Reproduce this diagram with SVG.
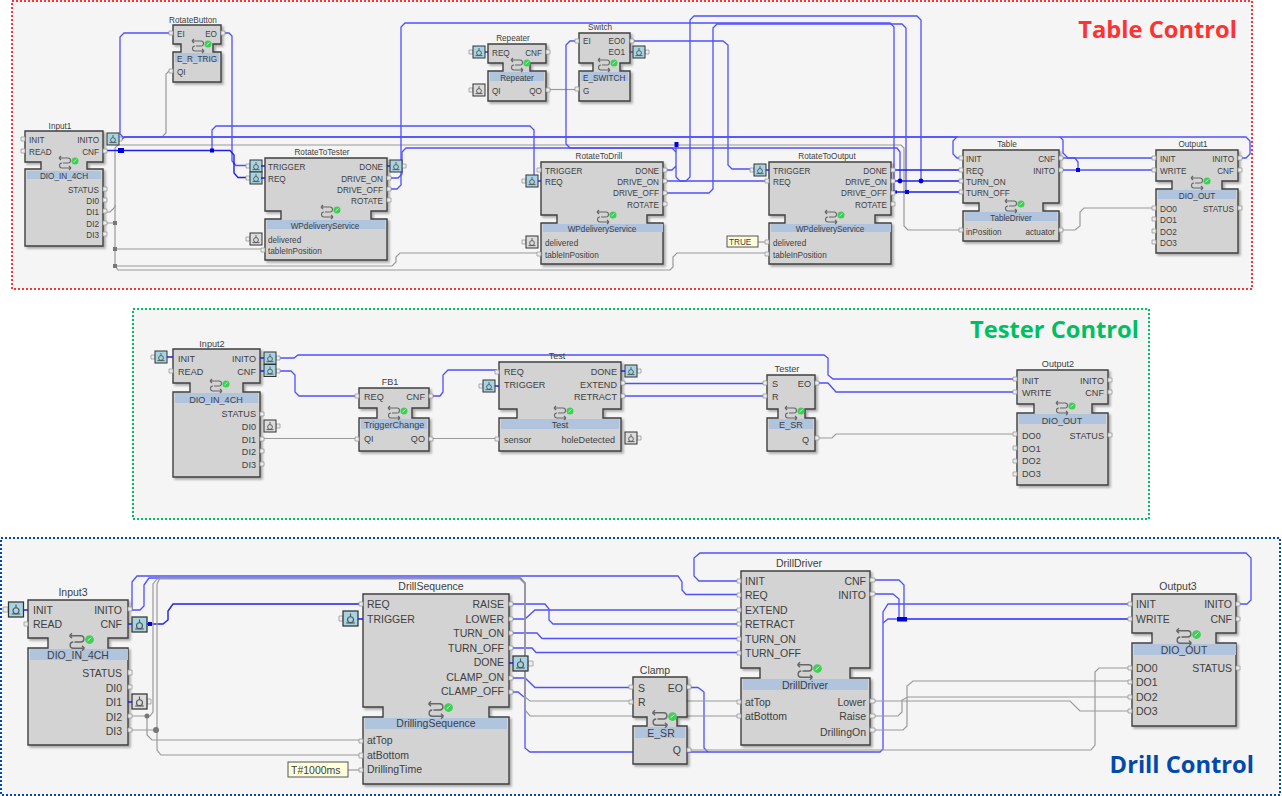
<svg xmlns="http://www.w3.org/2000/svg" xmlns:xlink="http://www.w3.org/1999/xlink" width="1282" height="796" viewBox="0 0 1282 796">
<style>
text{font-family:"Liberation Sans",Arial,sans-serif;fill:#404040}
.tb text{font-size:8.2px}.ts text{font-size:9.1px}.dr text{font-size:10.5px}
.r{text-anchor:end}.c{text-anchor:middle}
.title{font-family:"Open Sans","Noto Sans",sans-serif;font-weight:700;font-size:23.7px}
.frame{fill:#f5f5f5;stroke-width:2;stroke-dasharray:2 2}
.blk{fill:#d3d3d3;stroke:#404040;stroke-width:1.4;filter:drop-shadow(2px 2px 1px rgba(0,0,0,.3))}
.band{fill:#b0c4de}
.pin{fill:#eee;stroke:#999;stroke-width:.8}
.w{fill:none;stroke:#4f4fff;stroke-width:1.3}
.d{fill:none;stroke:#1f1fe6;stroke-width:1.4}
.g{fill:none;stroke:#9a9a9a;stroke-width:1.2}
.bd{fill:#0000e0}.gd{fill:#777}
.val{fill:#ffffdc;stroke:#555;stroke-width:1}
</style>
<defs>
<g id="ev"><rect x="0" y="0" width="12" height="12" fill="#a6d4e2" stroke="#333" stroke-width="1"/><circle cx="6" cy="7" r="2.4" fill="none" stroke="#555" stroke-width=".9"/><path d="M6,2V4.6M2.5,9.6H9.5" stroke="#555" stroke-width=".9" fill="none"/></g>
<g id="dv"><rect x="0" y="0" width="12" height="12" fill="#dcdcdc" stroke="#333" stroke-width="1"/><circle cx="6" cy="7" r="2.4" fill="none" stroke="#555" stroke-width=".9"/><path d="M6,2V4.6M2.5,9.6H9.5" stroke="#555" stroke-width=".9" fill="none"/></g>
<g id="st"><path d="M-6,-5H3A2.500,2.500 0 0 1 3,0H-2M6,5H-3A2.500,2.500 0 0 1 -3,0M-6,-5L-4,-7M-6,-5L-4,-3M6,5L4,3M6,5L4,7" fill="none" stroke="#666" stroke-width="1.1"/><circle cx="10" cy="-2" r="3.500" fill="#3ecf55"/><path d="M8.500,-1 L11.500,-3.500" stroke="#dff5e0" stroke-width=".8"/></g>
</defs>

<g id="frames">
<rect class="frame" x="12" y="1" width="1240" height="288" stroke="#ff3131"/>
<rect class="frame" x="133" y="309" width="1016" height="210" stroke="#00bf63"/>
<rect class="frame" x="1" y="538" width="1279" height="257" stroke="#004aad"/>
<text class="title r" x="1237" y="38" style="fill:#ff3131">Table Control</text>
<text class="title r" x="1139" y="338" style="fill:#00bf63">Tester Control</text>
<text class="title r" x="1254" y="773" style="fill:#004aad">Drill Control</text>
</g>

<g id="connectors">
<path class="g" d="M171,71H169L166,74V133L162,137H120"/>
<path class="g" d="M107,212H110L115,207V148L118,145H901L904,148V226L908,230H961"/>
<path class="g" d="M107,223H115M115,205V266M115,249H261"/>
<path class="g" d="M115,266H392L396,262V257L400,253H539"/>
<path class="g" d="M115,266L118,270H670L673,267V257L677,253H767"/>
<path class="g" d="M548,89.500H577"/>
<path class="g" d="M758,242H767"/>
<path class="g" d="M1061,230H1075L1080,226V212L1084,208H1154"/>
<path class="w" d="M1240,158H1246L1250,154V141L1246,137H123L120,134V37L124,33H170"/>
<path class="w" d="M118,139H122L125,137H957L953,141V154L957,158H961"/>
<path class="w" d="M1060,137L1063,140V153L1068,158H1154"/>
<path class="w" d="M1061,158H1075L1078,162V170"/>
<path class="w" d="M1061,170H1154"/>
<path class="w" d="M225,33H229L232,36V161L236,165.500H250"/>
<path class="d" d="M107,150.500H230L234,155V173L238,177.500H250"/>
<path class="w" d="M212,150V130L216,126H530L534,130V175"/>
<path class="w" d="M391,178H398L402,174V152L406,148H897L900,152V181"/>
<path class="w" d="M391,189H397L401,185V27L405,23H890L894,27V192"/>
<path class="w" d="M665,193H709L713,189V28L717,24H902L906,28V192"/>
<path class="w" d="M665,181H686L690,177V20L694,16H917L921,20V181"/>
<path class="w" d="M578,41H570L566,45V144L570,148H672L676,152"/>
<path class="w" d="M665,170H672L676,166M676,144V177L680,181H767"/>
<path class="w" d="M632,41H723L728,45V165L732,169H754"/>
<path class="w" d="M630,52H634"/>
<path class="d" d="M893,170H961"/>
<path class="d" d="M893,181H961"/>
<path class="d" d="M893,192H961"/>
<path class="w" d="M280,358H294L298,355H824L828,358V375L833,379H1015"/>
<path class="w" d="M280,371H291L295,375V392L299,396H357"/>
<path class="w" d="M431,396H440L443,392V375L448,370H497"/>
<path class="w" d="M623,383.500H767"/>
<path class="w" d="M623,396H767"/>
<path class="w" d="M817,383H828L836,392H1015"/>
<path class="g" d="M262,438.500H357"/>
<path class="g" d="M431,438.500H497"/>
<path class="g" d="M817,438H832L836,434H1015"/>
<path class="w" d="M130,610H132V582L137,576H678L682,582V590L686,594.500H739"/>
<path class="w" d="M130,610H140L144,606V585L149,578H520L525,583V748L530,752H880L883,749V612L888,604H1130"/>
<path class="w" d="M883,623L888,619H1130"/>
<path class="d" d="M147,624H163L168,620V611L173,604H361"/>
<path class="w" d="M511,604H545L549,609V620L553,624H739"/>
<path class="w" d="M511,619H525L535,610H739"/>
<path class="w" d="M511,633H537L542,638.500H739"/>
<path class="w" d="M511,648H532L536,652.500H739"/>
<path class="w" d="M511,678H525L535,687.500H630"/>
<path class="w" d="M511,692H518L524,697"/>
<path class="w" d="M690,687.500H698L704,692V748L708,752"/>
<path class="w" d="M875,580H899L904,585V619"/>
<path class="w" d="M875,594H893L899,599V619"/>
<path class="w" d="M899,619H1130"/>
<path class="w" d="M1240,604H1247L1251,600V558L1246,553H700L694,558V576L699,581H739"/>
<path class="g" d="M130,716H150L153,712V584L157,579H520L525,584V697L530,701H739"/>
<path class="g" d="M130,730H157M157,584V750L161,755H361"/>
<path class="g" d="M147,716V735L152,740H361"/>
<path class="g" d="M157,584L160,578H521L525,583V710L530,716H739"/>
<path class="g" d="M348,770H361"/>
<path class="g" d="M690,750H1091L1095,745V672L1099,668H1130"/>
<path class="g" d="M875,701H1070L1080,711H1130"/>
<path class="g" d="M875,716H898L902,712V700L908,697H1130"/>
<path class="g" d="M875,730H903L907,726V686L913,681H1130"/>
<rect class="bd" x="118" y="148" width="6" height="5"/>
<rect class="bd" x="210" y="148.500" width="4" height="4"/>
<rect class="bd" x="674.500" y="142" width="4" height="5"/>
<circle class="bd" cx="900" cy="181" r="2.400"/>
<circle class="bd" cx="921" cy="181" r="2.400"/>
<rect class="bd" x="893" y="190.500" width="4" height="3"/>
<rect class="bd" x="905" y="190" width="4" height="4"/>
<rect class="bd" x="1076" y="168" width="4" height="4"/>
<rect class="gd" x="113" y="221" width="4" height="4"/>
<rect class="gd" x="113" y="247" width="4" height="4"/>
<rect class="gd" x="113" y="264" width="4" height="4"/>
<circle class="gd" cx="147" cy="716" r="2.500"/>
<circle class="gd" cx="156" cy="730" r="3"/>
<rect class="bd" x="148" y="622" width="4" height="4"/>
<rect class="bd" x="897" y="617" width="10" height="4.500"/>
</g>

<g id="Input1" class="tb">
<path class="blk" d="M25,131H103V162H87V169H103V246H25V169H41V162H25Z"/>
<rect class="band" x="27" y="171" width="74" height="8"/>
<path class="pin" d="M21,137h4v4h-4zM21,149h4v4h-4zM103,149h4v4h-4zM103,187h4v4h-4zM103,198h4v4h-4zM103,209h4v4h-4zM103,221h4v4h-4zM103,232h4v4h-4zM118,137h4v4h-4z"/>
<use href="#ev" x="107" y="133"/><use href="#st" x="65" y="163"/>
<text class="c" x="60" y="129">Input1</text><text x="29" y="143">INIT</text><text x="29" y="154.500">READ</text><text class="r" x="99" y="143">INITO</text><text class="r" x="99" y="154.500">CNF</text>
<text class="c" x="64" y="178.500">DIO_IN_4CH</text><text class="r" x="99" y="192.500">STATUS</text><text class="r" x="99" y="204">DI0</text><text class="r" x="99" y="215">DI1</text><text class="r" x="99" y="226.500">DI2</text><text class="r" x="99" y="238">DI3</text>
</g>
<g id="RotateButton" class="tb">
<path class="blk" d="M173,25H221V44H213V52H221V82H173V52H181V44H173Z"/>
<rect class="band" x="175" y="53" width="44" height="9"/>
<path class="pin" d="M169,31h4v4h-4zM169,69h4v4h-4zM221,31h4v4h-4z"/>
<use href="#st" x="198" y="46"/>
<text class="c" x="193" y="22.500">RotateButton</text><text x="177" y="36.500">EI</text><text class="r" x="217" y="36.500">EO</text><text x="177" y="61.500">E_R_TRIG</text><text x="177" y="75">QI</text>
</g>
<g id="RotateToTester" class="tb">
<path class="blk" d="M265,158H387V211H371V219H387V260H265V219H281V211H265Z"/>
<rect class="band" x="267" y="220" width="118" height="9"/>
<path class="pin" d="M246,164h4v4h-4zM246,176h4v4h-4zM246,237h4v4h-4zM387,176h4v4h-4zM387,187h4v4h-4zM387,198h4v4h-4zM261,248h4v4h-4zM402,164h4v4h-4z"/>
<use href="#ev" x="250" y="160"/><use href="#ev" x="250" y="172"/><use href="#dv" x="250" y="233"/><use href="#ev" x="390" y="160"/><use href="#st" x="327" y="212"/>
<path class="d" d="M261,166H265M261,178H265M387,166H390"/>
<text class="c" x="322" y="155">RotateToTester</text><text x="268" y="169.500">TRIGGER</text><text x="268" y="181.500">REQ</text><text class="r" x="383" y="169.500">DONE</text><text class="r" x="383" y="181.500">DRIVE_ON</text><text class="r" x="383" y="192.500">DRIVE_OFF</text><text class="r" x="383" y="204">ROTATE</text>
<text class="c" x="325" y="229">WPdeliveryService</text><text x="268" y="242.500">delivered</text><text x="268" y="253.500">tableInPosition</text>
</g>
<g id="Repeater" class="tb">
<path class="blk" d="M488,44H546V63H530V71H546V101H488V71H503V63H488Z"/>
<rect class="band" x="490" y="72" width="54" height="9"/>
<path class="pin" d="M469,50h4v4h-4zM469,88h4v4h-4zM546,50h4v4h-4zM546,88h4v4h-4z"/>
<use href="#ev" x="473" y="46"/><use href="#dv" x="473" y="84"/><use href="#st" x="517" y="65"/>
<path class="d" d="M485,52H488"/>
<text class="c" x="513" y="41">Repeater</text><text x="492" y="55.500">REQ</text><text class="r" x="542" y="55.500">CNF</text><text class="c" x="517" y="80.500">Repeater</text><text x="492" y="93.500">QI</text><text class="r" x="542" y="93.500">QO</text>
</g>
<g id="Switch" class="tb">
<path class="blk" d="M579,33H630V63H620V71H630V101H579V71H593V63H579Z"/>
<rect class="band" x="581" y="72" width="47" height="9"/>
<path class="pin" d="M575,39h4v4h-4zM575,87h4v4h-4zM630,39h4v4h-4zM645,50h4v4h-4z"/>
<use href="#ev" x="633" y="46"/><use href="#st" x="604" y="65"/>
<text class="c" x="600" y="30">Switch</text><text x="583" y="44">EI</text><text class="r" x="625" y="44">EO0</text><text class="r" x="625" y="55">EO1</text><text x="583" y="80.500">E_SWITCH</text><text x="583" y="93.500">G</text>
</g>
<g id="RotateToDrill" class="tb">
<path class="blk" d="M541,162H663V215H647V223H663V264H541V223H557V215H541Z"/>
<rect class="band" x="543" y="224" width="120" height="8"/>
<path class="pin" d="M537,168h4v4h-4zM522,179h4v4h-4zM522,240h4v4h-4zM537,252h4v4h-4zM663,168h4v4h-4zM663,179h4v4h-4zM663,191h4v4h-4zM663,202h4v4h-4z"/>
<use href="#ev" x="526" y="175"/><use href="#dv" x="526" y="236"/><use href="#st" x="603" y="217"/>
<path class="d" d="M538,181H541"/>
<text class="c" x="599" y="159">RotateToDrill</text><text x="545" y="173.500">TRIGGER</text><text x="545" y="184.500">REQ</text><text class="r" x="659" y="173.500">DONE</text><text class="r" x="659" y="184.500">DRIVE_ON</text><text class="r" x="659" y="196">DRIVE_OFF</text><text class="r" x="659" y="207.500">ROTATE</text>
<text class="c" x="602" y="232">WPdeliveryService</text><text x="545" y="245.500">delivered</text><text x="545" y="257.500">tableInPosition</text>
</g>
<g id="RotateToOutput" class="tb">
<path class="blk" d="M769,162H891V215H875V223H891V264H769V223H785V215H769Z"/>
<rect class="band" x="771" y="224" width="120" height="8"/>
<path class="pin" d="M750,168h4v4h-4zM765,179h4v4h-4zM765,240h4v4h-4zM765,252h4v4h-4zM891,168h4v4h-4zM891,179h4v4h-4zM891,191h4v4h-4zM891,202h4v4h-4z"/>
<use href="#ev" x="754" y="164"/><use href="#st" x="831" y="217"/>
<path class="d" d="M766,170H769"/>
<rect class="val" x="727" y="236" width="31" height="11"/>
<text x="729" y="245">TRUE</text>
<text class="c" x="827" y="159">RotateToOutput</text><text x="773" y="173.500">TRIGGER</text><text x="773" y="184.500">REQ</text><text class="r" x="887" y="173.500">DONE</text><text class="r" x="887" y="184.500">DRIVE_ON</text><text class="r" x="887" y="196">DRIVE_OFF</text><text class="r" x="887" y="207.500">ROTATE</text>
<text class="c" x="830" y="232">WPdeliveryService</text><text x="773" y="245.500">delivered</text><text x="773" y="257.500">tableInPosition</text>
</g>
<g id="Table" class="tb">
<path class="blk" d="M963,150H1059V203H1043V211H1059V241H963V211H979V203H963Z"/>
<rect class="band" x="965" y="212" width="92" height="9"/>
<path class="pin" d="M959,156h4v4h-4zM959,168h4v4h-4zM959,179h4v4h-4zM959,190h4v4h-4zM959,228h4v4h-4zM1059,156h4v4h-4zM1059,168h4v4h-4zM1059,228h4v4h-4z"/>
<use href="#st" x="1011" y="206"/>
<text class="c" x="1007" y="147">Table</text><text x="966" y="161.500">INIT</text><text x="966" y="173.500">REQ</text><text x="966" y="184.500">TURN_ON</text><text x="966" y="196">TURN_OFF</text><text class="r" x="1055" y="161.500">CNF</text><text class="r" x="1055" y="173.500">INITO</text>
<text class="c" x="1011" y="221">TableDriver</text><text x="966" y="234.500">inPosition</text><text class="r" x="1055" y="234.500">actuator</text>
</g>
<g id="Output1" class="tb">
<path class="blk" d="M1156,150H1238V181H1222V189H1238V253H1156V189H1172V181H1156Z"/>
<rect class="band" x="1158" y="190" width="78" height="9"/>
<path class="pin" d="M1152,156h4v4h-4zM1152,168h4v4h-4zM1152,206h4v4h-4zM1152,217h4v4h-4zM1152,229h4v4h-4zM1152,240h4v4h-4zM1238,156h4v4h-4zM1238,168h4v4h-4zM1238,206h4v4h-4z"/>
<use href="#st" x="1197" y="183"/>
<text class="c" x="1193" y="147">Output1</text><text x="1160" y="161.500">INIT</text><text x="1160" y="173.500">WRITE</text><text class="r" x="1234" y="161.500">INITO</text><text class="r" x="1234" y="173.500">CNF</text>
<text class="c" x="1197" y="198.500">DIO_OUT</text><text x="1160" y="212">DO0</text><text x="1160" y="223">DO1</text><text x="1160" y="234.500">DO2</text><text x="1160" y="245.500">DO3</text><text class="r" x="1234" y="212">STATUS</text>
</g>

<g id="Input2" class="ts">
<path class="blk" d="M173,349H260V383H243V392H260V477H173V392H190V383H173Z"/>
<rect class="band" x="175" y="393" width="83" height="10"/>
<path class="pin" d="M151,355h4v4h-4zM169,369h4v4h-4zM260,412h4v4h-4zM260,437h4v4h-4zM260,449h4v4h-4zM260,462h4v4h-4zM276,356h4v4h-4zM276,369h4v4h-4zM276,424h4v4h-4z"/>
<use href="#ev" x="155" y="351"/><use href="#ev" x="264" y="352"/><use href="#ev" x="264" y="364.500"/><use href="#dv" x="264" y="420"/><use href="#st" x="216" y="386"/>
<path class="d" d="M167,357H173M260,358H264M260,371H264"/>
<text class="c" x="212" y="347">Input2</text><text x="178" y="362">INIT</text><text x="178" y="375">READ</text><text class="r" x="256" y="362">INITO</text><text class="r" x="256" y="375">CNF</text>
<text class="c" x="216" y="403">DIO_IN_4CH</text><text class="r" x="256" y="417">STATUS</text><text class="r" x="256" y="430">DI0</text><text class="r" x="256" y="443">DI1</text><text class="r" x="256" y="455">DI2</text><text class="r" x="256" y="468">DI3</text>
</g>
<g id="FB1" class="ts">
<path class="blk" d="M359,388H429V408H412V418H429V451H359V418H377V408H359Z"/>
<rect class="band" x="361" y="419" width="66" height="10"/>
<path class="pin" d="M355,394h4v4h-4zM355,437h4v4h-4zM429,394h4v4h-4zM429,437h4v4h-4z"/>
<use href="#st" x="394" y="413"/>
<text class="c" x="390" y="385">FB1</text><text x="364" y="400">REQ</text><text class="r" x="425" y="400">CNF</text><text x="364" y="428">TriggerChange</text><text x="364" y="442">QI</text><text class="r" x="425" y="442">QO</text>
</g>
<g id="Test" class="ts">
<path class="blk" d="M499,362H621V409H603V418H621V451H499V418H517V409H499Z"/>
<rect class="band" x="501" y="419" width="118" height="10"/>
<path class="pin" d="M495,370h4v4h-4zM479,384h4v4h-4zM495,437h4v4h-4zM621,381h4v4h-4zM621,394h4v4h-4zM637,369h4v4h-4zM637,436h4v4h-4z"/>
<use href="#ev" x="483" y="380"/><use href="#ev" x="625" y="365"/><use href="#dv" x="625" y="432"/><use href="#st" x="560" y="413"/>
<path class="d" d="M495,386H499M621,371H625"/>
<text class="c" x="557" y="359">Test</text><text x="504" y="375">REQ</text><text x="504" y="388">TRIGGER</text><text class="r" x="617" y="375">DONE</text><text class="r" x="617" y="388">EXTEND</text><text class="r" x="617" y="400">RETRACT</text>
<text class="c" x="560" y="428">Test</text><text x="504" y="443">sensor</text><text class="r" x="615" y="443">holeDetected</text>
</g>
<g id="Tester" class="ts">
<path class="blk" d="M767,375H815V409H805V418H815V451H767V418H778V409H767Z"/>
<rect class="band" x="769" y="419" width="44" height="10"/>
<path class="pin" d="M763,381h4v4h-4zM763,394h4v4h-4zM815,381h4v4h-4zM815,436h4v4h-4z"/>
<use href="#st" x="791" y="413"/>
<text class="c" x="787" y="372">Tester</text><text x="772" y="387">S</text><text x="772" y="400">R</text><text class="r" x="811" y="387">EO</text><text class="c" x="791" y="428">E_SR</text><text class="r" x="809" y="443">Q</text>
</g>
<g id="Output2" class="ts">
<path class="blk" d="M1017,370H1108V404H1092V413H1108V485H1017V413H1034V404H1017Z"/>
<rect class="band" x="1019" y="414" width="87" height="10"/>
<path class="pin" d="M1013,377h4v4h-4zM1013,390h4v4h-4zM1013,432h4v4h-4zM1013,446h4v4h-4zM1013,459h4v4h-4zM1013,472h4v4h-4zM1108,378h4v4h-4zM1108,390h4v4h-4zM1108,433h4v4h-4z"/>
<use href="#st" x="1062" y="408"/>
<text class="c" x="1058" y="367">Output2</text><text x="1022" y="384">INIT</text><text x="1022" y="396">WRITE</text><text class="r" x="1104" y="384">INITO</text><text class="r" x="1104" y="396">CNF</text>
<text class="c" x="1062" y="424">DIO_OUT</text><text x="1022" y="439">DO0</text><text x="1022" y="452">DO1</text><text x="1022" y="464">DO2</text><text x="1022" y="477">DO3</text><text class="r" x="1104" y="439">STATUS</text>
</g>

<g id="Input3" class="dr">
<path class="blk" d="M28,600H128V638H108V648H128V745H28V648H48V638H28Z"/>
<rect class="band" x="30" y="649" width="98" height="11"/>
<path class="pin" d="M3,607h5v5h-5zM24,622h4v4h-4zM128,607h4v4h-4zM128,670h4v5h-4zM128,685h4v4h-4zM128,714h4v4h-4zM128,728h4v4h-4zM147,699h4v5h-4z"/>
<use href="#ev" transform="translate(8.500,602) scale(1.25)"/><use href="#ev" transform="translate(132,617) scale(1.25)"/><use href="#dv" transform="translate(132,694) scale(1.25)"/><use href="#st" transform="translate(77,642) scale(1.25)"/>
<path class="d" d="M23,610H28M128,624H132M128,702H132"/>
<text class="c" x="73" y="596">Input3</text><text x="33" y="613.500">INIT</text><text x="33" y="628">READ</text><text class="r" x="122" y="613.500">INITO</text><text class="r" x="122" y="628">CNF</text>
<text class="c" x="78" y="659">DIO_IN_4CH</text><text class="r" x="122" y="676.500">STATUS</text><text class="r" x="122" y="691.500">DI0</text><text class="r" x="122" y="705.500">DI1</text><text class="r" x="122" y="720.500">DI2</text><text class="r" x="122" y="734.500">DI3</text>
</g>
<g id="DrillSequence" class="dr">
<path class="blk" d="M363,594H509V707H489V717H509V784H363V717H383V707H363Z"/>
<rect class="band" x="365" y="718" width="142" height="11"/>
<path class="pin" d="M359,602h4v4h-4zM339,616h4v5h-4zM359,739h4v4h-4zM359,753h4v5h-4zM359,768h4v4h-4zM509,602h4v4h-4zM509,617h4v4h-4zM509,631h4v4h-4zM509,646h4v4h-4zM509,676h4v4h-4zM509,690h4v4h-4zM528,661h5v5h-5z"/>
<use href="#ev" transform="translate(343,611) scale(1.25)"/><use href="#ev" transform="translate(513,656) scale(1.25)"/><use href="#st" transform="translate(436,710) scale(1.25)"/>
<path class="d" d="M358,619H363M509,663H513"/>
<rect class="val" x="288" y="762" width="60" height="15"/>
<text x="291" y="774">T#1000ms</text>
<text class="c" x="431" y="590">DrillSequence</text><text x="367" y="608">REQ</text><text x="367" y="623">TRIGGER</text><text class="r" x="504" y="608">RAISE</text><text class="r" x="504" y="623">LOWER</text><text class="r" x="504" y="637">TURN_ON</text><text class="r" x="504" y="652">TURN_OFF</text><text class="r" x="504" y="666">DONE</text><text class="r" x="504" y="681">CLAMP_ON</text><text class="r" x="504" y="695">CLAMP_OFF</text>
<text class="c" x="436" y="727">DrillingSequence</text><text x="367" y="744">atTop</text><text x="367" y="759">atBottom</text><text x="367" y="773">DrillingTime</text>
</g>
<g id="Clamp" class="dr">
<path class="blk" d="M633,677H687V717H677V726H687V764H633V726H647V717H633Z"/>
<rect class="band" x="635" y="727" width="50" height="11"/>
<path class="pin" d="M629,685h4v4h-4zM629,700h4v4h-4zM687,685h4v4h-4zM687,748h4v4h-4z"/>
<use href="#st" transform="translate(660,719) scale(1.25)"/>
<text class="c" x="655" y="674">Clamp</text><text x="638" y="691.500">S</text><text x="638" y="705.500">R</text><text class="r" x="683" y="691.500">EO</text><text class="c" x="661" y="737">E_SR</text><text class="r" x="681" y="753.500">Q</text>
</g>
<g id="DrillDriver" class="dr">
<path class="blk" d="M741,571H870V668H850V678H870V745H741V678H760V668H741Z"/>
<rect class="band" x="743" y="679" width="125" height="11"/>
<path class="pin" d="M737,579h4v4h-4zM737,593h4v4h-4zM737,608h4v4h-4zM737,622h4v4h-4zM737,637h4v4h-4zM737,651h4v4h-4zM737,700h4v4h-4zM737,714h4v4h-4zM870,578h5v4h-5zM870,592h5v4h-5zM870,699h5v4h-5zM870,714h5v4h-5zM870,728h5v4h-5z"/>
<use href="#st" transform="translate(805,671) scale(1.25)"/>
<text class="c" x="799" y="567">DrillDriver</text><text x="745" y="584.500">INIT</text><text x="745" y="598.500">REQ</text><text x="745" y="613.500">EXTEND</text><text x="745" y="627.500">RETRACT</text><text x="745" y="642.500">TURN_ON</text><text x="745" y="656.500">TURN_OFF</text><text class="r" x="866" y="584.500">CNF</text><text class="r" x="866" y="598.500">INITO</text>
<text class="c" x="805" y="689">DrillDriver</text><text x="745" y="706">atTop</text><text x="745" y="720">atBottom</text><text class="r" x="866" y="706">Lower</text><text class="r" x="866" y="720">Raise</text><text class="r" x="866" y="735.500">DrillingOn</text>
</g>
<g id="Output3" class="dr">
<path class="blk" d="M1132,594H1236V633H1216V643H1236V726H1132V643H1152V633H1132Z"/>
<rect class="band" x="1134" y="644" width="102" height="11"/>
<path class="pin" d="M1128,602h4v4h-4zM1128,617h4v4h-4zM1128,666h4v4h-4zM1128,680h4v4h-4zM1128,695h4v4h-4zM1128,709h4v4h-4zM1236,602h4v4h-4zM1236,617h4v4h-4zM1236,666h4v4h-4z"/>
<use href="#st" transform="translate(1184,637) scale(1.25)"/>
<text class="c" x="1178" y="590">Output3</text><text x="1136" y="608">INIT</text><text x="1136" y="622.500">WRITE</text><text class="r" x="1232" y="608">INITO</text><text class="r" x="1232" y="622.500">CNF</text>
<text class="c" x="1184" y="654">DIO_OUT</text><text x="1136" y="671.500">DO0</text><text x="1136" y="685.500">DO1</text><text x="1136" y="700.500">DO2</text><text x="1136" y="714.500">DO3</text><text class="r" x="1232" y="671.500">STATUS</text>
</g>
</svg>
